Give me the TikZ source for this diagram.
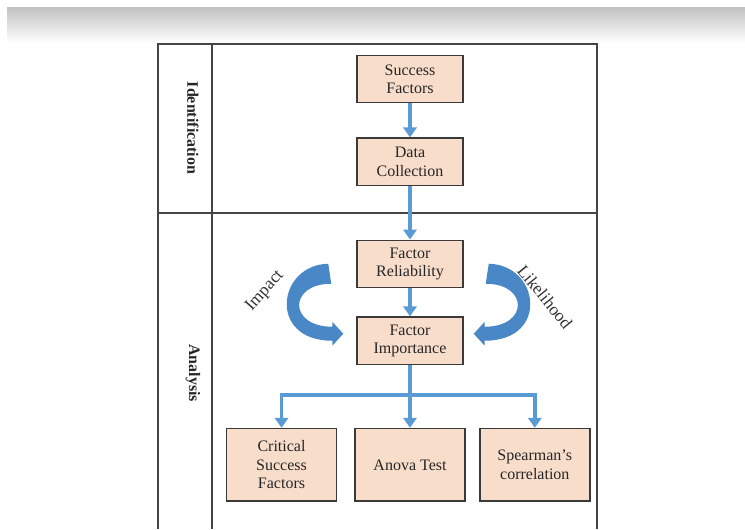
\documentclass[tikz,border=0pt]{standalone}
\usepackage{fontspec}
\setmainfont{Liberation Serif}
\usepackage{xcolor}
\definecolor{fpPeach}{HTML}{F8DDCB}
\definecolor{fpEdge}{HTML}{3A3A3A}
\definecolor{fpBlue}{HTML}{5B9BD5}
\definecolor{fpBend}{HTML}{4A87C6}
\definecolor{fpFrame}{HTML}{454545}
\usepackage{tikz}
\usetikzlibrary{positioning,arrows.meta,calc}

\begin{document}
\begin{tikzpicture}[
      x=0.75pt,y=-0.75pt,
      every node/.style={font=\fontsize{12}{13.8}\selectfont},
      stage/.style={rectangle,draw=fpEdge,fill=fpPeach,line width=1.1pt,
                    minimum width=79.5pt,minimum height=35.5pt,align=center,
                    text=black!85},
      result/.style={stage,minimum width=82.5pt,minimum height=54.5pt},
      lane/.style={font=\fontsize{12}{14}\selectfont\bfseries,rotate=-90,
                   text=black!85},
      flow/.style={-{Triangle[width=10pt,length=7.5pt]},line width=2.8pt,
                   fpBlue},
      curl/.style={fill=fpBend},
      side/.style={font=\fontsize{13}{15}\selectfont,text=black!80},
      frame/.style={draw=fpFrame,line width=1.1pt},
    ]
    \useasboundingbox (0,0) rectangle (745,529);

    % --- grey band on top ---
    \shade[top color=black!24,bottom color=white] (7,7) rectangle (745,43);

    % --- swim lanes ---
    \draw[frame] (158,529) -- (158,44) -- (597,44) -- (597,529);
    \draw[frame] (212,44) -- (212,529);
    \draw[frame] (158,213) -- (597,213);
    \node[lane] (ident) at (193,128) {Identification};
    \node[lane] (anal) at (193,373) {Analysis};

    % --- main column ---
    \node[stage] (succ) at (410,79) {Success\\Factors};
    \node[stage,below=25.5pt of succ] (data) {Data\\Collection};
    \node[stage,below=40pt of data] (rel) {Factor\\Reliability};
    \node[stage,below=21pt of rel] (imp) {Factor\\Importance};

    % --- results ---
    \node[result,below=47pt of imp] (anova) {Anova Test};
    \node[result,left=12.75pt of anova] (crit) {Critical\\Success\\Factors};
    \node[result,right=10pt of anova] (spear) {Spearman’s\\correlation};

    % --- connections ---
    \draw[flow] (succ) -- (data);
    \draw[flow] (data) -- (rel);
    \draw[flow] (rel) -- (imp);
    \coordinate (split) at ($(imp.south)+(0,30)$);
    \draw[flow] (imp.south) -- (split) -| (crit.north);
    \draw[flow] (imp.south) -- (split) -| (spear.north);
    \draw[flow] (imp) -- (anova);

    % --- curved arrows into Factor Importance ---
    \begin{scope}[shift={($(imp.west)+(-13,-7)$)}]
      \fill[curl] (0,0) -- (-11,-12) -- (-11,-7)
        .. controls (-55,-7) and (-55,-50) .. (-12,-50) -- (-15,-70)
        .. controls (-66,-69) and (-76,7) .. (-11,7) -- (-11,12) -- cycle;
    \end{scope}
    \begin{scope}[shift={($(imp.east)+(10,-7)$)},xscale=-1]
      \fill[curl] (0,0) -- (-11,-12) -- (-11,-7)
        .. controls (-55,-7) and (-55,-50) .. (-12,-50) -- (-15,-70)
        .. controls (-66,-69) and (-76,7) .. (-11,7) -- (-11,12) -- cycle;
    \end{scope}
    \node[side,rotate=48] (impact) at (265,291) {Impact};
    \node[side,rotate=-51] (likely) at (545,297) {Likelihood};

  \end{tikzpicture}
\end{document}
